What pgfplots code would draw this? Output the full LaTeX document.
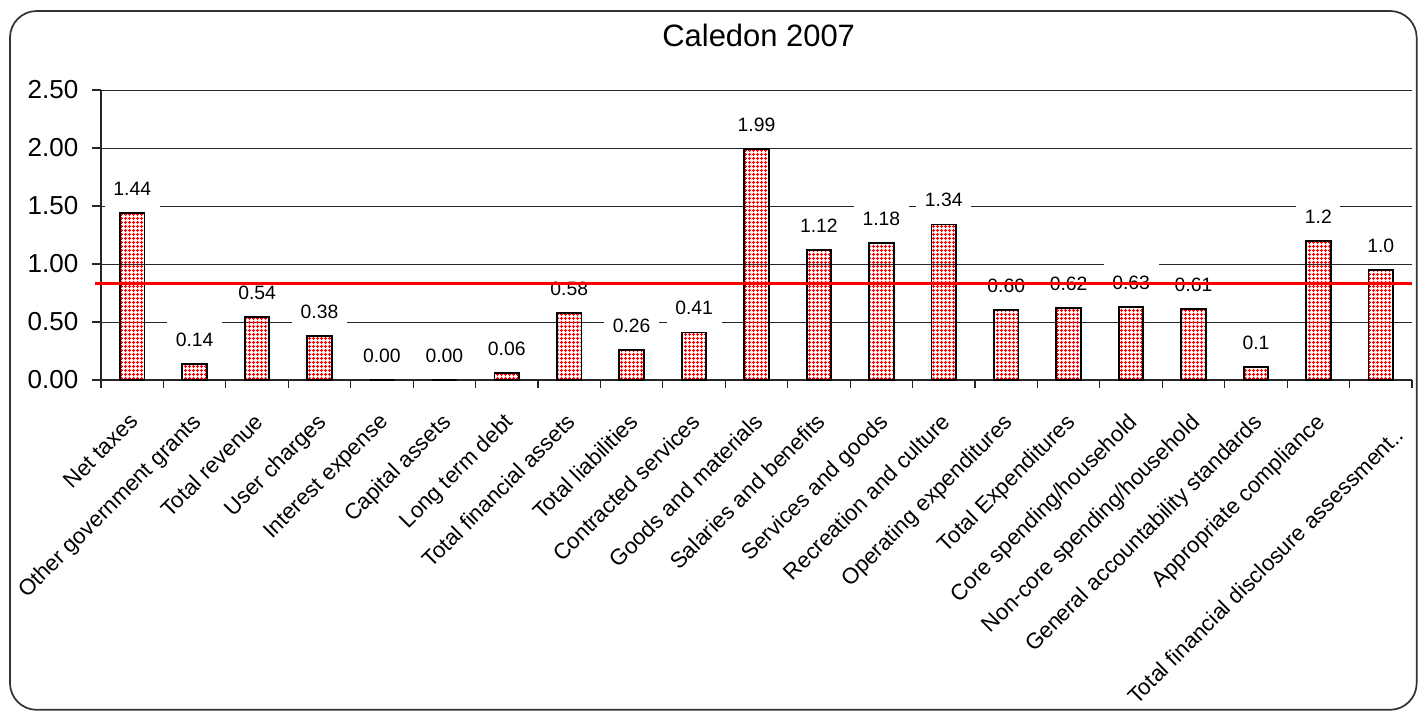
\documentclass[border=0pt]{standalone}
\usepackage{pgfplots}
\pgfplotsset{compat=1.18}
\usepackage{fontspec}
\setmainfont{Liberation Sans}
\usetikzlibrary{patterns}
\pgfdeclarepatternformonly{redgrid}{\pgfqpoint{0pt}{0pt}}{\pgfqpoint{3pt}{3pt}}{\pgfqpoint{3pt}{3pt}}{%
  \pgfsetlinewidth{1pt}%
  \pgfpathmoveto{\pgfqpoint{0pt}{1.5pt}}\pgfpathlineto{\pgfqpoint{3pt}{1.5pt}}%
  \pgfpathmoveto{\pgfqpoint{1.5pt}{0pt}}\pgfpathlineto{\pgfqpoint{1.5pt}{3pt}}%
  \pgfusepath{stroke}}
\pgfplotsset{
  commonaxis/.style={
    at={(75.75pt,248.25pt)}, anchor=south west, scale only axis,
    width=983.25pt, height=217.5pt,
    clip=false,
    xmin=-0.5, xmax=20.5, ymin=0, ymax=2.5,
  }
}
\begin{document}
\begin{tikzpicture}
\useasboundingbox (0,0) rectangle (1064.25pt,533.25pt);
\draw[line width=1.3pt, black!80, rounded corners=20pt] (7.5pt,0.9pt) rectangle (1062.5pt,525pt);
\node[anchor=base, font=\fontsize{23.2}{28}\selectfont] at (569pt,498pt) {Caledon 2007};
\begin{axis}[
  commonaxis,
  axis x line*=bottom, axis y line*=left,
  axis line style={-, black!85, line width=0.8pt},
  ytick={0,0.5,1,1.5,2,2.5},
  ymajorgrids, grid style={black!85, line width=0.7pt},
  yticklabel style={/pgf/number format/fixed, /pgf/number format/fixed zerofill, /pgf/number format/precision=2, /pgf/number format/assume math mode=true},
  y tick label style={font=\fontsize{19.5}{22}\selectfont, xshift=-7pt},
  tick align=outside,
  ytick style={black!85, line width=0.8pt},
  major tick length=6.5pt,
  xtick={0,...,20},
  xtick style={draw=none},
  minor xtick={-0.5,0.5,...,20.5},
  minor x tick style={draw=black!85, line width=0.8pt},
  minor tick length=6pt,
  xticklabels={Net taxes,Other government grants,Total revenue,User charges,Interest expense,Capital assets,Long term debt,Total financial assets,Total liabilities,Contracted services,Goods and materials,Salaries and benefits,Services and goods,Recreation and culture,Operating expenditures,Total Expenditures,Core spending/household,Non-core spending/household,General accountability standards,Appropriate compliance,{\raisebox{-16pt}[\height][0pt]{Total financial disclosure assessment..}\kern-1.5pt}},
  x tick label style={rotate=45, anchor=north east, font=\fontsize{16.7}{19}\selectfont, inner sep=0pt, xshift=-14.3pt, yshift=-10.2pt},
]
\addplot[ybar, bar width=18.5pt, draw=black, line width=1.4pt, pattern=redgrid, pattern color=red,
  point meta=explicit symbolic, nodes near coords,
  every node near coord/.append style={font=\fontsize{14.5}{17}\selectfont, fill=white, anchor=south, inner xsep=6.5pt, inner ysep=7pt, text height=12pt, text depth=2pt, yshift=3.5pt}] coordinates {
(0,1.44) [1.44]
(1,0.14) [0.14]
(2,0.54) [0.54]
(3,0.38) [0.38]
(4,0.00) [0.00]
(5,0.00) [0.00]
(6,0.06) [0.06]
(7,0.58) [0.58]
(8,0.26) [0.26]
(9,0.41) [0.41]
(10,1.99) [1.99]
(11,1.12) [1.12]
(12,1.18) [1.18]
(13,1.34) [1.34]
(14,0.60) [0.60]
(15,0.62) [0.62]
(16,0.63) [0.63]
(17,0.61) [0.61]
(18,0.11) [0.1]
(19,1.20) [1.2]
(20,0.95) [1.0]
};
\end{axis}
\begin{axis}[commonaxis, hide axis]
\addplot[red, line width=2pt] coordinates {(-0.6,0.83) (20.5,0.83)};
\end{axis}
\end{tikzpicture}
\end{document}
